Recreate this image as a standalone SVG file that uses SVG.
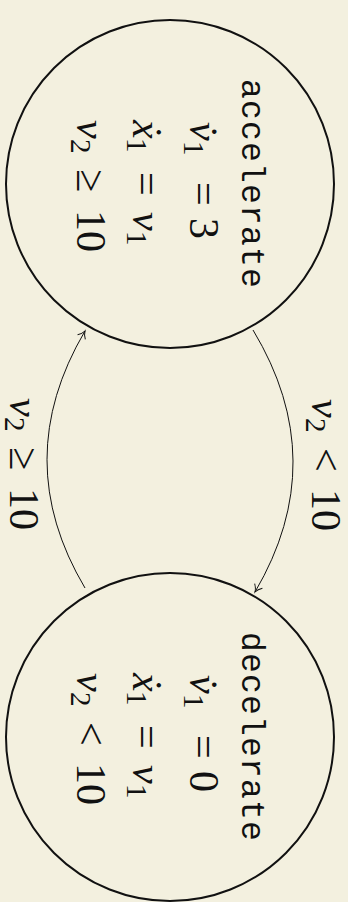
<svg xmlns="http://www.w3.org/2000/svg" width="348" height="902" viewBox="0 0 348 902">
<defs>
<style>
.bg{fill:#f3f0df}
.node{fill:none;stroke:#111;stroke-width:2}
.edge{fill:none;stroke:#111;stroke-width:1}
.tt{font-family:'Liberation Mono','DejaVu Sans Mono',monospace;font-size:33px;letter-spacing:1.2px;fill:#111}
.m{font-family:'Liberation Serif','DejaVu Serif',serif;font-size:42px;fill:#111}
.i{font-style:italic}
.s{font-size:29px;font-style:normal}
</style>
<marker id="arr" viewBox="-8 -6 10 12" refX="0" refY="0" markerWidth="10" markerHeight="12" markerUnits="userSpaceOnUse" orient="auto">
<path d="M-7,-4.5 C-4.5,-1.8 -1.5,-0.4 0,0 C-1.5,0.4 -4.5,1.8 -7,4.5" fill="none" stroke="#111" stroke-width="1"/>
</marker>
</defs>
<rect class="bg" x="0" y="0" width="348" height="902"/>
<g id="connectors">
<g id="e1">
<path class="edge" d="M253,330 Q332,461 255,592" marker-end="url(#arr)"/>
<text class="m" transform="translate(312,463) rotate(90)"><tspan class="i" x="-64" y="0">v</tspan><tspan class="s" x="-45" y="6">2</tspan><tspan x="-15" y="0">&lt;</tspan><tspan x="26" y="0">10</tspan></text>
</g>
<g id="e2">
<path class="edge" d="M85,588 Q9,460 85,331" marker-end="url(#arr)"/>
<text class="m" transform="translate(10,462) rotate(90)"><tspan class="i" x="-64" y="0">v</tspan><tspan class="s" x="-45" y="5">2</tspan><tspan x="-15" y="0">≥</tspan><tspan x="26" y="0">10</tspan></text>
</g>
</g>
<g id="accelerate">
<circle class="node" cx="170" cy="184" r="164"/>
<g transform="translate(170,184) rotate(90)">
<text class="tt" x="0" y="-72" text-anchor="middle">accelerate</text>
<text class="m"><tspan class="i" x="-62" y="-20">v&#x307;</tspan><tspan class="s" x="-43" y="-14">1</tspan><tspan x="-2" y="-20">=</tspan><tspan x="34" y="-20">3</tspan></text>
<text class="m"><tspan class="i" x="-64" y="37">x&#x307;</tspan><tspan class="s" x="-46" y="43">1</tspan><tspan x="-12" y="37">=</tspan><tspan class="i" x="28" y="37">v</tspan><tspan class="s" x="47" y="43">1</tspan></text>
<text class="m"><tspan class="i" x="-64" y="93">v</tspan><tspan class="s" x="-45" y="99">2</tspan><tspan x="-15" y="93">≥</tspan><tspan x="26" y="93">10</tspan></text>
</g>
</g>
<g id="decelerate">
<circle class="node" cx="170" cy="737" r="164"/>
<g transform="translate(170,737) rotate(90)">
<text class="tt" x="0" y="-72" text-anchor="middle">decelerate</text>
<text class="m"><tspan class="i" x="-62" y="-20">v&#x307;</tspan><tspan class="s" x="-43" y="-14">1</tspan><tspan x="-2" y="-20">=</tspan><tspan x="34" y="-20">0</tspan></text>
<text class="m"><tspan class="i" x="-64" y="37">x&#x307;</tspan><tspan class="s" x="-46" y="43">1</tspan><tspan x="-12" y="37">=</tspan><tspan class="i" x="28" y="37">v</tspan><tspan class="s" x="47" y="43">1</tspan></text>
<text class="m"><tspan class="i" x="-64" y="93">v</tspan><tspan class="s" x="-45" y="99">2</tspan><tspan x="-15" y="93">&lt;</tspan><tspan x="26" y="93">10</tspan></text>
</g>
</g>
</svg>
